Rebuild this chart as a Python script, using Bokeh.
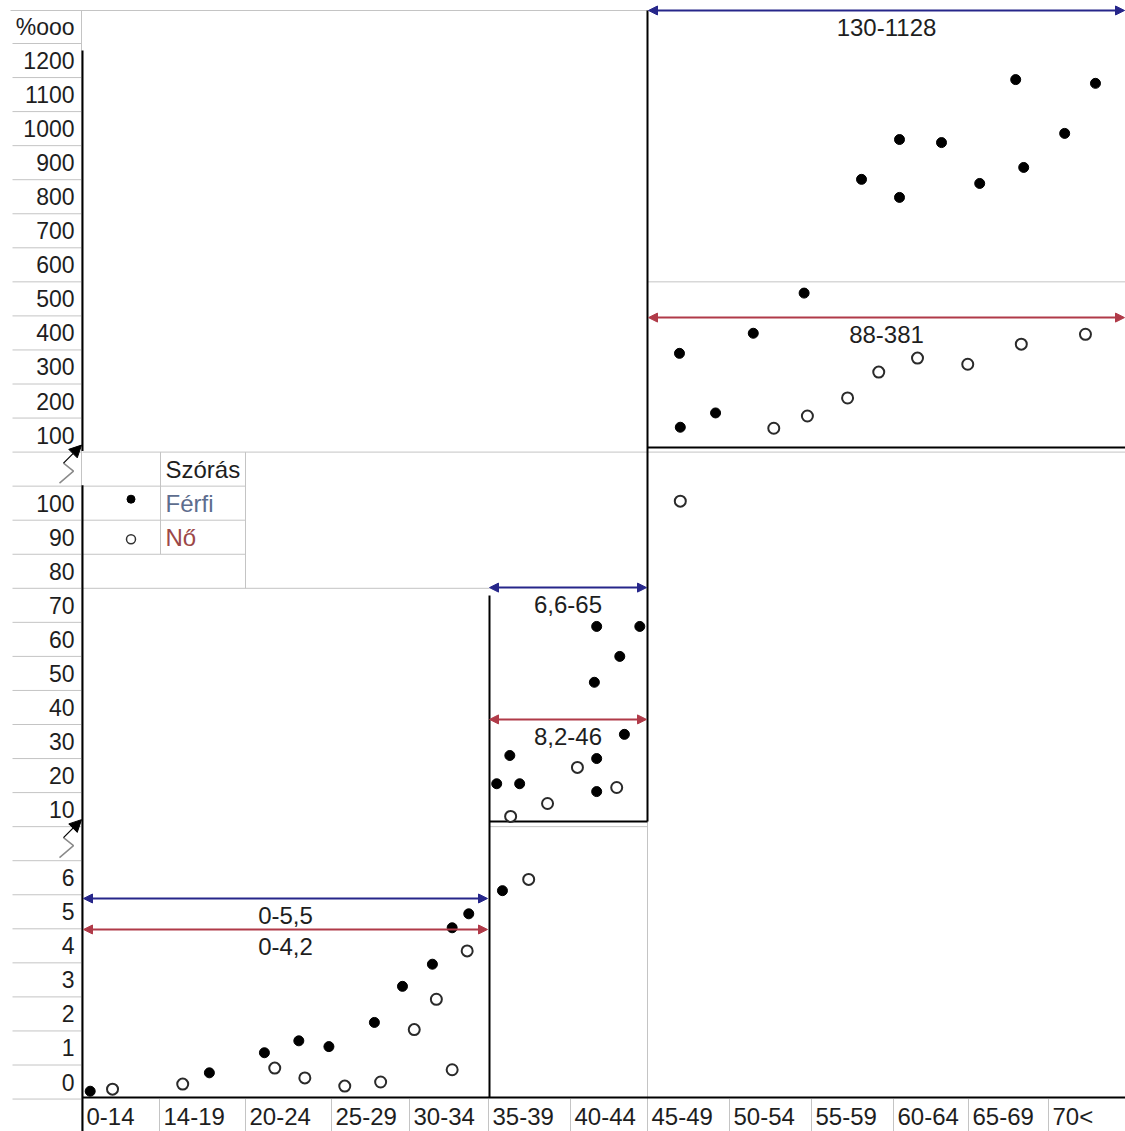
import numpy as np
from bokeh.plotting import figure
from bokeh.models import Range1d, Arrow, NormalHead, ColumnDataSource
from bokeh.embed import file_html
from bokeh.resources import INLINE
from bokeh.core.properties import value

# ---------------- data ----------------
age_groups = ["0-14", "14-19", "20-24", "25-29", "30-34", "35-39", "40-44",
              "45-49", "50-54", "55-59", "60-64", "65-69", "70<"]

# Férfi (filled dots): age-group index, position inside the group (0..1), value (‱)
ferfi_group = [0, 1, 2, 2, 2, 3, 3, 4, 4, 4, 5,
               5, 5, 5, 6, 6, 6, 6, 6, 6, 6,
               7, 7, 7, 8, 8, 9, 10, 10, 10, 11, 11, 11, 12, 12]
ferfi_pos = [0.10, 0.58, 0.22, 0.62, 0.97, 0.55, 0.91, 0.29, 0.54, 0.75, 0.17,
             0.10, 0.26, 0.38, 0.34, 0.31, 0.34, 0.34, 0.64, 0.70, 0.90,
             0.39, 0.40, 0.83, 0.29, 0.91, 0.61, 0.08, 0.08, 0.64, 0.14, 0.59, 0.69, 0.21, 0.61]
ferfi_val = [-0.27, 0.27, 0.86, 1.21, 1.04, 1.75, 2.81, 3.46, 4.53, 4.94, 5.62,
             17.6, 25.9, 17.6, 63.8, 47.4, 25.0, 15.3, 55.0, 32.1, 63.8,
             340, 123, 165, 399, 517, 851, 968, 798, 959, 839, 1144, 886, 986, 1133]

# Nő (open circles)
no_group = [0, 1, 2, 2, 3, 3, 4, 4, 4, 4, 5,
            5, 5, 6, 6, 7,
            8, 8, 9, 9, 10, 10, 11, 12]
no_pos = [0.39, 0.27, 0.34, 0.69, 0.17, 0.63, 0.06, 0.34, 0.54, 0.73, 0.49,
          0.27, 0.72, 0.09, 0.60, 0.40,
          0.54, 0.95, 0.44, 0.82, 0.32, 0.99, 0.66, 0.48]
no_val = [-0.21, -0.06, 0.41, 0.12, -0.12, 0.0, 1.54, 2.43, 0.36, 3.85, 5.95,
          8.0, 11.8, 22.4, 16.5, 100.6,
          120, 156, 209, 285, 326, 308, 367, 396]

ticks_top = [1200, 1100, 1000, 900, 800, 700, 600, 500, 400, 300, 200, 100]
ticks_mid = [100, 90, 80, 70, 60, 50, 40, 30, 20, 10]
ticks_low = [6, 5, 4, 3, 2, 1, 0]
unit_label = "%ooo"

range_labels = ["130-1128", "88-381", "6,6-65", "8,2-46", "0-5,5", "0-4,2"]
range_sex = ["Férfi", "Nő", "Férfi", "Nő", "Férfi", "Nő"]
range_level = [1347, 445, 75.2, 36.5, 5.39, 4.48]
range_first = [7, 7, 5, 5, 0, 0]
range_last = [12, 12, 6, 6, 4, 4]

legend_title = "Szórás"
legend_names = ["Férfi", "Nő"]

# ---------------- layout helpers ----------------
COL_EDGES = [82, 159, 245, 331, 409, 488, 570, 647, 729, 811, 893, 968, 1048, 1125]
ROW0, ROW_H = 43.0, 34.05
SEG = {"top": (0, 1200, 100.0), "mid": (13, 100, 10.0), "low": (24, 6, 1.0)}


def row_y(r):
    return ROW0 + ROW_H * r


def row_c(r):
    return ROW0 + ROW_H * (r + 0.5)


def seg_of(v):
    return "top" if v >= 110 else ("mid" if v >= 7 else "low")


def ypx(v, seg=None):
    seg = seg or seg_of(v)
    r0, v0, step = SEG[seg]
    return row_c(r0 + (v0 - v) / step)


def xpx(g, f):
    return COL_EDGES[g] + f * (COL_EDGES[g + 1] - COL_EDGES[g])


FONT = value("Liberation Sans")
BLUE = "#26268a"
RED = "#b03a48"

p = figure(width=1125, height=1131, x_range=Range1d(0, 1125), y_range=Range1d(1131, 0),
           output_backend="svg", toolbar_location=None, min_border=0,
           x_axis_type=None, y_axis_type=None)
p.grid.visible = False
p.outline_line_color = None
p.background_fill_color = "white"
p.border_fill_color = "white"

# ---------------- spreadsheet grid (gray) ----------------
gray = []
gray.append((10, 10, 1125, 10))
gray.append((81, 10, 81, 1131))
for k in range(0, 32):
    gray.append((12, row_y(k), 81, row_y(k)))
gray.append((82, row_y(12), 1125, row_y(12)))
for k in (13, 14, 15):
    gray.append((82, row_y(k), 245, row_y(k)))
gray.append((82, row_y(16), 489, row_y(16)))
gray.append((160, row_y(12), 160, row_y(15)))
gray.append((245, row_y(12), 245, row_y(16)))
gray.append((647, row_y(7), 1125, row_y(7)))
gray.append((489, row_y(23), 647, row_y(23)))
gray.append((647, 821, 647, 1131))
for e in COL_EDGES[1:-1]:
    gray.append((e, row_y(31), e, 1131))
gs = list(zip(*gray))
p.segment(x0=list(gs[0]), y0=list(gs[1]), x1=list(gs[2]), y1=list(gs[3]),
          line_color="#c4c4c4", line_width=1)

# ---------------- black frame lines ----------------
black = [
    (82, 50, 82, row_y(12) - 1),
    (82, row_y(13) - 1, 82, 1131),
    (82, row_y(31) - 1.5, 1125, row_y(31) - 1.5),
    (647, 10, 647, 821),
    (647, 447, 1125, 447),
    (489, 595, 489, 1097),
    (489, 821, 647, 821),
]
bs = list(zip(*black))
p.segment(x0=list(bs[0]), y0=list(bs[1]), x1=list(bs[2]), y1=list(bs[3]),
          line_color="black", line_width=2)

# ---------------- axis break marks ----------------
for r in (12, 23):
    top = row_y(r)
    p.line([63, 73, 59], [top + 11, top + 19, top + 31], line_color="#8a8a8a", line_width=1.5)
    p.add_layout(Arrow(x_start=63, y_start=top + 11, x_end=81, y_end=top - 7,
                       line_color="black", line_width=1.2,
                       end=NormalHead(size=12, fill_color="black", line_color="black")))

# ---------------- tick labels ----------------
tx, ty, tt = [], [], []
for seg, ticks in (("top", ticks_top), ("mid", ticks_mid), ("low", ticks_low)):
    for t in ticks:
        tx.append(74)
        ty.append(ypx(t, seg))
        tt.append(str(t))
tx.append(74)
ty.append((10 + row_y(0)) / 2)
tt.append(unit_label)
p.text(x=tx, y=ty, text=tt, text_font=FONT, text_font_size="23px",
       text_align="right", text_baseline="middle", text_color="#1e1e1e")

# category labels
cx = [e + 4 for e in COL_EDGES[:-1]]
cy = [row_c(31)] * len(age_groups)
p.text(x=cx, y=cy, text=age_groups, text_font=FONT, text_font_size="24px",
       text_align="left", text_baseline="middle", text_color="#1e1e1e")

# ---------------- legend table ----------------
p.text(x=[165], y=[row_c(12)], text=[legend_title], text_font=FONT, text_font_size="24px",
       text_align="left", text_baseline="middle", text_color="#1e1e1e")
p.text(x=[165, 165], y=[row_c(13), row_c(14)], text=legend_names, text_font=FONT,
       text_font_size="24px", text_align="left", text_baseline="middle",
       text_color=["#5d6d8e", "#9c4848"])
p.scatter(x=[130.5], y=[row_c(13) - 4], size=8, marker="circle", fill_color="black",
          line_color="black")
p.scatter(x=[130.5], y=[row_c(14) + 2], size=9, marker="circle", fill_color="white",
          line_color="#333333", line_width=1.5)

# ---------------- range arrows ----------------
for lab, sex, lev, g0, g1 in zip(range_labels, range_sex, range_level, range_first, range_last):
    col = BLUE if sex == "Férfi" else RED
    yy = ypx(lev)
    x0 = COL_EDGES[g0] + 1
    x1 = COL_EDGES[g1 + 1] - 1
    p.add_layout(Arrow(x_start=x0, y_start=yy, x_end=x1, y_end=yy,
                       line_color=col, line_width=2,
                       start=NormalHead(size=9, fill_color=col, line_color=col),
                       end=NormalHead(size=9, fill_color=col, line_color=col)))
    p.text(x=[(x0 + x1) / 2], y=[yy + 17], text=[lab], text_font=FONT, text_font_size="24px",
           text_align="center", text_baseline="middle", text_color="#1e1e1e")

# ---------------- points ----------------
fsrc = ColumnDataSource(dict(x=[xpx(g, f) for g, f in zip(ferfi_group, ferfi_pos)],
                             y=[ypx(v) for v in ferfi_val]))
nsrc = ColumnDataSource(dict(x=[xpx(g, f) for g, f in zip(no_group, no_pos)],
                             y=[ypx(v) for v in no_val]))
p.scatter("x", "y", source=nsrc, size=11, marker="circle", fill_color="white",
          line_color="#2a2a2a", line_width=2)
p.scatter("x", "y", source=fsrc, size=10, marker="circle", fill_color="black",
          line_color="black")

open("out.html", "w").write(file_html(p, INLINE))
